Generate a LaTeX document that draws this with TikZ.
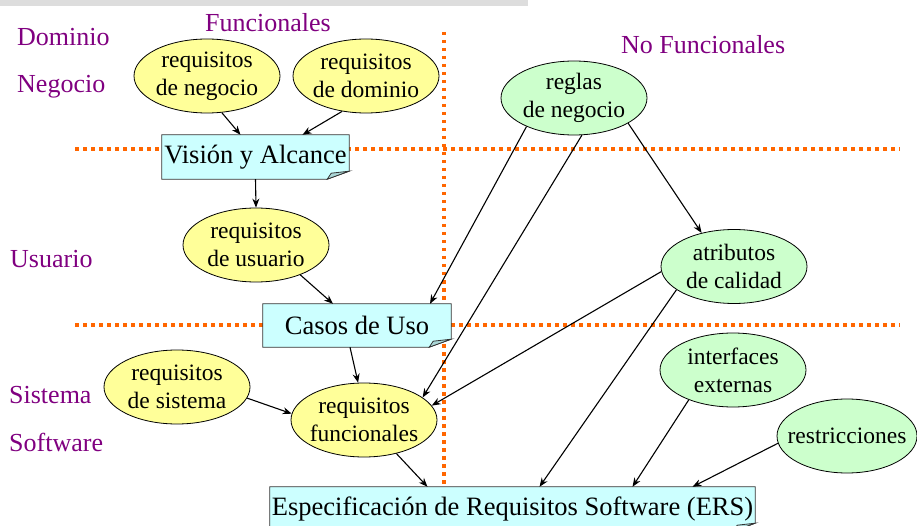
\documentclass[tikz,border=0pt]{standalone}
\usepackage{fontspec}
\setmainfont{Liberation Serif}
\usepackage{xcolor}
\usepackage{tikz}
\usetikzlibrary{shapes.geometric, arrows.meta, backgrounds}
\definecolor{reqyellow}{RGB}{255, 255, 153}
\definecolor{nfgreen}{RGB}{204, 255, 204}
\definecolor{doccyan}{RGB}{204, 255, 255}
\definecolor{foldcyan}{RGB}{170, 215, 215}
\definecolor{areapurple}{RGB}{128, 0, 128}
\definecolor{lineorange}{RGB}{255, 102, 0}
\definecolor{barcolor}{RGB}{221, 221, 221}
\newcommand{\ellfont}{\fontsize{23.5}{28}\selectfont}
\newcommand{\boxfont}{\fontsize{26.5}{30}\selectfont}
\newcommand{\areafont}{\fontsize{26}{30}\selectfont}
% document frame with folded corner
\newcommand{\docframe}[1]{%
  \draw[docline, fill=doccyan] (#1.north west) -- (#1.north east) -- ([yshift=8pt]#1.south east) -- ([xshift=-22pt]#1.south east) -- (#1.south west) -- cycle;
  \draw[docline, fill=foldcyan] ([xshift=-22pt]#1.south east) -- ([xshift=-18pt,yshift=6pt]#1.south east) -- ([yshift=8pt]#1.south east) -- cycle;}

\begin{document}
\begin{tikzpicture}[x=1pt, y=-1pt,
    funreq/.style={ellipse, draw, line width=0.8pt, fill=reqyellow, minimum width=146pt, minimum height=74pt, inner xsep=-5pt, inner ysep=0pt, align=center, font=\ellfont},
    nfreq/.style={funreq, fill=nfgreen},
    docbox/.style={rectangle, inner sep=0pt, font=\boxfont},
    docline/.style={draw=black!80, line width=0.8pt},
    area/.style={anchor=base west, inner sep=0pt, text=areapurple, font=\areafont},
    limit/.style={lineorange, line width=3.5pt, dash pattern=on 3.5pt off 4.5pt},
    flow/.style={-{Stealth[length=9pt, width=7pt]}, line width=1.1pt}]
    \useasboundingbox (0,0) rectangle (917,526);
    \clip (0,0) rectangle (917,526);

    % Toolbar strip
    \fill[barcolor] (0,0) rectangle (528,6);

    % Area titles
    \node[area] (tfun) at (205,32) {Funcionales};
    \node[area] (tnof) at (621,54) {No Funcionales};
    \node[area] (tdom) at (17,46) {Dominio};
    \node[area] (tneg) at (17,93) {Negocio};
    \node[area] (tusu) at (10,268) {Usuario};
    \node[area] (tsis) at (9,403) {Sistema};
    \node[area] (tsof) at (9,451) {Software};

    % Level limits
    \begin{scope}[on background layer]
        \draw[limit] (444,32) -- (444,485);
        \draw[limit] (75,149) -- (900,149);
        \draw[limit] (75,325) -- (900,325);
    \end{scope}

    % Requirements
    \node[funreq] (rneg) at (207,76) {requisitos\\de negocio};
    \node[funreq] (rdom) at (366,76) {requisitos\\de dominio};
    \node[nfreq] (reglas) at (574,98) {reglas\\de negocio};
    \node[funreq] (rusu) at (256,245) {requisitos\\de usuario};
    \node[nfreq] (atrib) at (734,266.5) {atributos\\de calidad};
    \node[funreq] (rsis) at (177,387) {requisitos\\de sistema};
    \node[funreq] (rfun) at (364,420) {requisitos\\funcionales};
    \node[nfreq] (iext) at (733,370) {interfaces\\externas};
    \node[nfreq, minimum width=140pt, inner xsep=-17pt] (restr) at (847,436) {restricciones};

    % Documents
    \node[docbox, minimum width=187pt, minimum height=44pt] (vis) at (255.5,157) {Visión y Alcance};
    \node[docbox, minimum width=188pt, minimum height=43pt] (casos) at (357,325.5) {Casos de Uso};
    \node[docbox, minimum width=485pt, minimum height=44pt] (ers) at (512.5,509) {Especificación de Requisitos Software (ERS)};
    \begin{scope}[on background layer]
        \docframe{vis}
        \docframe{casos}
        \docframe{ers}
    \end{scope}

    % Flows
    \draw[flow] (rneg.-68) -- ([xshift=-15pt]vis.north);
    \draw[flow] (rdom.-124) -- ([xshift=47pt]vis.north);
    \draw[flow] (vis.south) -- (rusu.north);
    \draw[flow] (rusu.-34) -- ([xshift=-24pt]casos.north);
    \draw[flow] (reglas.-149) -- ([xshift=73pt]casos.north);
    \draw[flow] (reglas.-78) -- (rfun.21);
    \draw[flow] (reglas.-25) -- (atrib.134);
    \draw[flow] (atrib.-176) -- (rfun.12);
    \draw[flow] (atrib.-158) -- ([xshift=27pt]ers.north);
    \draw[flow] ([xshift=-7pt]casos.south) -- (rfun.99);
    \draw[flow] (rsis.-9) -- (rfun.175);
    \draw[flow] (rfun.-46) -- ([xshift=-85pt]ers.north);
    \draw[flow] (iext.-146) -- ([xshift=120pt]ers.north);
    \draw[flow] (restr.-174) -- ([xshift=180pt]ers.north);
\end{tikzpicture}
\end{document}
